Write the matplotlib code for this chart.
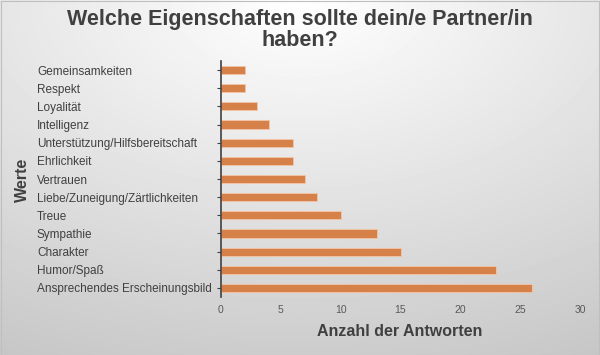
import matplotlib
matplotlib.use('Agg')
import matplotlib.pyplot as plt
import numpy as np

plt.rcParams['font.family'] = ['Liberation Sans', 'DejaVu Sans']

# ── Daten ────────────────────────────────────────────────────────────────
werte = ['Gemeinsamkeiten', 'Respekt', 'Loyalität', 'Intelligenz',
         'Unterstützung/Hilfsbereitschaft', 'Ehrlichkeit', 'Vertrauen',
         'Liebe/Zuneigung/Zärtlichkeiten', 'Treue', 'Sympathie', 'Charakter',
         'Humor/Spaß', 'Ansprechendes Erscheinungsbild']
anzahl = [2, 2, 3, 4, 6, 6, 7, 8, 10, 13, 15, 23, 26]
x_ticks = [0, 5, 10, 15, 20, 25, 30]

fig = plt.figure(figsize=(6, 3.55), dpi=100)

# Hintergrund: radialer Verlauf weiß -> grau
bg = fig.add_axes([0, 0, 1, 1], zorder=-10)
yy, xx = np.mgrid[0:355, 0:600]
r = np.sqrt(((xx - 300) / 600.0) ** 2 + (yy / 355.0) ** 2)
r = np.clip(r / 1.1, 0, 1)
shade = 1.0 - 0.22 * r
bg.imshow(shade, cmap='gray', vmin=0, vmax=1, aspect='auto',
          extent=[0, 1, 0, 1], origin='upper')
bg.set_axis_off()
fig.patches.append(plt.Rectangle((0.001, 0.001), 0.998, 0.997, transform=fig.transFigure,
                                 fill=False, edgecolor='#BFBFBF', linewidth=0.8))

ax = fig.add_axes([221 / 600, 1 - 297 / 355, (580 - 221) / 600, (297 - 61) / 355])
ax.patch.set_alpha(0)
y = np.arange(len(werte))
ax.barh(y, anzahl, height=0.45, color='#D6804A', edgecolor='#F2C6A6', linewidth=0.6)
ax.set_ylim(len(werte) - 0.5, -0.5)
ax.set_xlim(0, 30)
ax.set_xticks(x_ticks)
ax.set_yticks(y)
ax.set_yticklabels(werte, fontsize=8.5, color='#404040', ha='left')
ax.tick_params(axis='x', length=0, labelsize=7.5, colors='#595959', pad=6)
# linksbündige Beschriftung ab ca. x=37 px
ax.tick_params(axis='y', length=3, width=0.8, color='#404040', pad=129.5)
for s in ['top', 'right', 'bottom']:
    ax.spines[s].set_visible(False)
ax.spines['left'].set_color('#404040')
ax.spines['left'].set_linewidth(1.2)

fig.text(0.5, 0.975, 'Welche Eigenschaften sollte dein/e Partner/in\nhaben?',
         ha='center', va='top', fontsize=15.5, fontweight='bold', color='#404040',
         linespacing=1.0)
fig.text(400 / 600, 1 - 332 / 355, 'Anzahl der Antworten', ha='center', va='center',
         fontsize=11.5, fontweight='bold', color='#404040')
fig.text(22 / 600, 1 - 180 / 355, 'Werte', ha='center', va='center', rotation=90,
         fontsize=11.5, fontweight='bold', color='#404040')

plt.savefig('out.png', dpi=100)
plt.close()
